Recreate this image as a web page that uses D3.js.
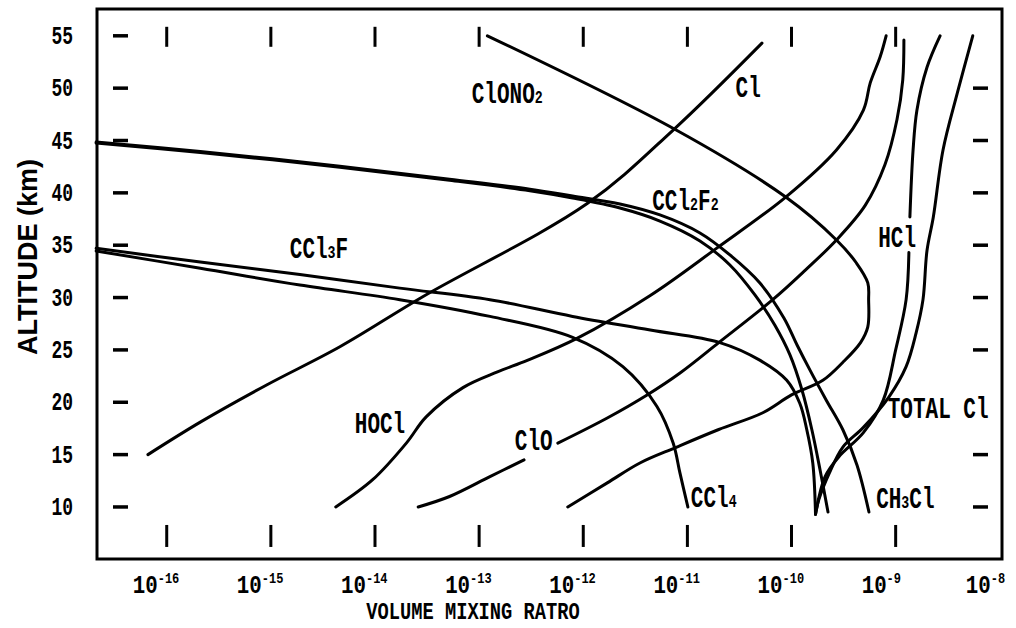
<!DOCTYPE html>
<html><head><meta charset="utf-8">
<script src="https://cdn.jsdelivr.net/npm/d3@7"></script>
<style>body{margin:0;background:#fff} svg{display:block}</style>
</head><body>
<svg id="c" width="1016" height="628"></svg>
<script>
// ---- data (volume mixing ratio, altitude km) ----
const yTickValues = [10,15,20,25,30,35,40,45,50,55];
const yTickLabels = ["10","15","20","25","30","35","40","45","50","55"];
const rightTickValues = [10,15,25,30,35,40,45,50];
const xTickValues = [1e-16,1e-15,1e-14,1e-13,1e-12,1e-11,1e-10,1e-9];
const xLabelValues = [1e-16,1e-15,1e-14,1e-13,1e-12,1e-11,1e-10,1e-9,1e-8];
const xLabelExponents = ["-16","-15","-14","-13","-12","-11","-10","-9","-8"];

const Cl = [[6.6e-17,15],[2.1e-16,18.1],[9.1e-16,21.65],[4.6e-15,25.3],[2.9e-14,30.1],[1.1e-12,39.0],[7.3e-12,46.0],[5.2e-11,54.3]];
const ClONO2 = [[1.2e-13,55],[7.8e-12,46.0],[8.8e-11,39.6],[2.7e-10,35.5],[4.2e-10,33.3],[5.4e-10,31.4],[5.5e-10,29.8],[5.4e-10,27.2],[4.6e-10,25.7],[3.1e-10,23.8],[2.0e-10,22.1],[1.0e-10,20.7],[5.3e-11,19.0],[2.0e-11,17.4],[7.8e-12,15.7],[3.5e-12,14.2],[1.7e-12,12.3],[7.1e-13,10]];
const HOCl = [[4.2e-15,10],[9.5e-15,12.6],[2.0e-14,16.1],[3.1e-14,18.6],[7.0e-14,21.4],[1.5e-13,22.9],[2.9e-13,24.0],[8.7e-13,26.1],[4.4e-12,30.2],[1.9e-11,34.7],[8.8e-11,39.6],[2.7e-10,44.1],[4.9e-10,47.9],[5.7e-10,50.5],[7.1e-10,53.0],[8.1e-10,55]];
const ClO = [[2.6e-14,10],[5.2e-14,11.0],[1.27e-13,12.9],[2.7e-13,14.5],null,[5.7e-13,16.1],[1.7e-12,18.5],[4.1e-12,20.7],[8.5e-12,22.8],[2.0e-11,25.7],[6.6e-11,29.8],[1.35e-10,32.6],[2.7e-10,35.5],[5.1e-10,38.8],[7.9e-10,42.7],[1.03e-9,47.0],[1.17e-9,50.8],[1.2e-9,54.6]];
const HCl = [[2.67e-9,55],[2.0e-9,52.0],[1.6e-9,47.9],[1.47e-9,44.1],[1.37e-9,37.7],null,[1.34e-9,34.3],[1.26e-9,29.8],[1.0e-9,25.0],[7.6e-10,20.2],[4.9e-10,17.1],[2.85e-10,14.8],[2.1e-10,12.9],[1.7e-10,9.3]];
const TotalCl = [[5.5e-9,55],[3.9e-9,49.5],[2.85e-9,44.1],[2.3e-9,37.7],[2.0e-9,34.5],[1.83e-9,29.8],[1.57e-9,26.6],[1.26e-9,23.4],[8.6e-10,20.5],[4.9e-10,17.6],[3.1e-10,15.7],[2.3e-10,13.2],[1.83e-10,10.7],[1.7e-10,9.3]];
const CCl3F = [[2.1e-17,34.7],[2.1e-16,33.4],[1.9e-15,32.2],[1.73e-14,30.9],[1.27e-13,29.8],[7.9e-13,28.2],[4.4e-12,26.9],[2.05e-11,25.7],[5.0e-11,24.0],[9.0e-11,22.1],[1.2e-10,19.9],[1.4e-10,17.4],[1.6e-10,14.2],[1.7e-10,9.3]];
const CCl4 = [[2.1e-17,34.45],[2.1e-16,32.8],[1.9e-15,31.2],[1.73e-14,29.8],[1.27e-13,28.2],[7.9e-13,26.2],[2.4e-12,23.4],[5.1e-12,19.6],[7.3e-12,16.1],[8.5e-12,13.2],[1.01e-11,10]];
const CCl2F2 = [[2.1e-17,44.75],[2.1e-16,43.85],[4.6e-15,42.45],[5.2e-14,41.2],[3.07e-13,40.2],[7.9e-13,39.51],[2.25e-12,38.55],[5.45e-12,37.31],[1.32e-11,35.41],[2.56e-11,33.11],[4.45e-11,30.25],[6.9e-11,27.38],[9.66e-11,24.52],[1.26e-10,21.17],[1.57e-10,17.35],[1.88e-10,13.53],[2.24e-10,9.52]];
const CH3Cl = [[2.1e-17,44.85],[2.1e-16,43.95],[4.6e-15,42.55],[5.2e-14,41.3],[3.07e-13,40.35],[7.9e-13,39.7],[2.25e-12,38.94],[5.45e-12,37.89],[1.32e-11,36.17],[2.56e-11,34.07],[4.97e-11,31.39],[8.45e-11,28.05],[1.13e-10,25.47],[1.5e-10,23.09],[2.15e-10,20.22],[3.12e-10,17.35],[4.25e-10,14.01],[5.54e-10,9.52]];

const seriesList = [Cl, ClONO2, HOCl, ClO, HCl, TotalCl, CCl3F, CCl4, CCl2F2, CH3Cl];
const labelNames = ["ClONO_2","Cl","CCl_2F_2","HCl","CCl_3F","HOCl","ClO","CCl_4","CH_3Cl","TOTAL Cl"];
const labelAnchors = [[8.5e-14,48.6],[2.9e-11,49.2],[4.6e-12,38.4],[6.8e-10,34.8],[1.52e-15,33.8],[6.4e-15,17.1],[2.2e-13,15.4],[1.08e-11,10.0],[6.5e-10,9.9],[8.4e-10,18.5]];

// ---- drawing ----
const svg = d3.select("#c");
const x = d3.scaleLog().domain([2.14e-17, 1.05e-8]).range([97, 1002]);
const y = d3.scaleLinear().domain([5.03, 57.56]).range([559, 9]);
const [x0, x1] = x.range(), [y0, y1] = y.range();

svg.append("rect").attr("x", x0).attr("y", y1).attr("width", x1 - x0).attr("height", y0 - y1)
  .attr("fill", "none").attr("stroke", "#000").attr("stroke-width", 3);

const ink = "#000";
svg.selectAll(".xt").data(xTickValues).join("line").attr("class","xt")
  .attr("x1", d => x(d)).attr("x2", d => x(d)).attr("y1", y(55) - 9).attr("y2", y(55) + 11)
  .attr("stroke", ink).attr("stroke-width", 3);
svg.selectAll(".xb").data(xTickValues).join("line").attr("class","xb")
  .attr("x1", d => x(d)).attr("x2", d => x(d)).attr("y1", y(10) + 18).attr("y2", y(10) + 40)
  .attr("stroke", ink).attr("stroke-width", 3);
svg.selectAll(".yl").data(yTickValues).join("line").attr("class","yl")
  .attr("x1", x0 + 16).attr("x2", x0 + 31).attr("y1", d => y(d)).attr("y2", d => y(d))
  .attr("stroke", ink).attr("stroke-width", 3.5);
svg.selectAll(".yr").data(rightTickValues).join("line").attr("class","yr")
  .attr("x1", x1 - 29).attr("x2", x1 - 14).attr("y1", d => y(d)).attr("y2", d => y(d))
  .attr("stroke", ink).attr("stroke-width", 3.5);

const mono = "'Liberation Mono', 'DejaVu Sans Mono', monospace";
yTickValues.forEach((v, i) => {
  svg.append("text").attr("transform", `translate(${x0 - 24},${y(v) + 8}) scale(0.72,1)`)
    .attr("text-anchor", "end").attr("font-family", mono).attr("font-weight", "bold")
    .attr("font-size", 25).text(yTickLabels[i]);
});
xLabelValues.forEach((v, i) => {
  const g = svg.append("text").attr("transform", `translate(${x(v) - 34},${593}) scale(0.8,1)`)
    .attr("font-family", mono).attr("font-weight", "bold").attr("font-size", 26);
  g.append("tspan").text("10");
  g.append("tspan").attr("font-size", 15).attr("dy", -10).text(xLabelExponents[i]);
});
svg.append("text").attr("transform", `translate(473,619) scale(0.78,1)`).attr("text-anchor", "middle")
  .attr("font-family", mono).attr("font-weight", "bold").attr("font-size", 24).text("VOLUME MIXING RATRO");
svg.append("text").attr("transform", "translate(37,257) rotate(-90)").attr("text-anchor", "middle")
  .attr("font-family", "'Liberation Sans', Arial, sans-serif").attr("font-weight", "bold")
  .attr("font-size", 27).text("ALTITUDE (km)");

const line = d3.line().defined(d => d !== null).x(d => x(d[0])).y(d => y(d[1]))
  .curve(d3.curveCatmullRom.alpha(0.5));
seriesList.forEach(s => {
  svg.append("path").attr("d", line(s)).attr("fill", "none").attr("stroke", ink)
    .attr("stroke-width", 3).attr("stroke-linecap", "round").attr("stroke-linejoin", "round");
});

labelNames.forEach((name, i) => {
  const t = svg.append("text").attr("transform", `translate(${x(labelAnchors[i][0])},${y(labelAnchors[i][1])}) scale(0.7,1)`)
    .attr("font-family", mono).attr("font-weight", "bold").attr("font-size", 30);
  const parts = name.split(/(_\d)/).filter(p => p.length);
  parts.forEach(p => {
    if (p[0] === "_") t.append("tspan").attr("font-size", 19).text(p.slice(1));
    else t.append("tspan").text(p);
  });
});
</script>
</body></html>
